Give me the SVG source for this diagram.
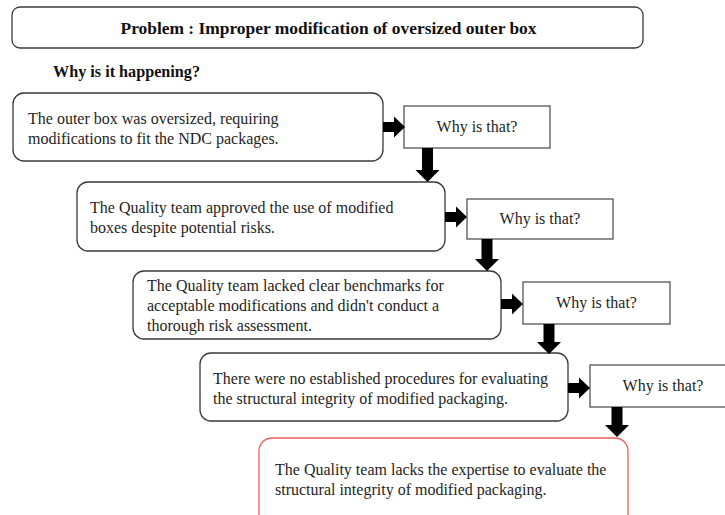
<svg xmlns="http://www.w3.org/2000/svg" width="725" height="515" viewBox="0 0 725 515">
  <style>
    .box { fill: #ffffff; stroke: #3a3a3a; stroke-width: 1.3; }
    .why { fill: #ffffff; stroke: #555555; stroke-width: 1.3; }
    .root { fill: #ffffff; stroke: #ef5f58; stroke-width: 1.3; }
    .t { font-family: "Liberation Serif", "Times New Roman", serif; font-size: 16px; fill: #1e1e1e; }
    .b { font-family: "Liberation Serif", "Times New Roman", serif; font-weight: bold; fill: #111111; }
    .c { text-anchor: middle; }
    .arr { fill: #000000; stroke: none; }
  </style>
  <defs>
    <path id="ra" d="M0,-5 H11 V-10.5 L22,0 L11,10.5 V5 H0 Z"/>
  </defs>
  <rect width="725" height="515" fill="#ffffff"/>

  <g id="title">
    <rect class="box" x="12" y="7" width="631" height="41" rx="8"/>
    <text class="b c" x="328.5" y="34" font-size="17.3" textLength="416" lengthAdjust="spacingAndGlyphs">Problem : Improper modification of oversized outer box</text>
  </g>
  <g id="subtitle">
    <text class="b" x="53" y="77" font-size="16" textLength="147" lengthAdjust="spacingAndGlyphs">Why is it happening?</text>
  </g>

  <g id="cause1">
    <rect class="box" x="13" y="93" width="370" height="68" rx="11"/>
    <text class="t" x="28" y="124">The outer box was oversized, requiring</text>
    <text class="t" x="28" y="144">modifications to fit the NDC packages.</text>
  </g>
  <g id="why1">
    <rect class="why" x="404" y="106" width="146" height="42"/>
    <text class="t c" x="477" y="132">Why is that?</text>
  </g>

  <g id="cause2">
    <rect class="box" x="77" y="182" width="368" height="69" rx="11"/>
    <text class="t" x="90" y="213">The Quality team approved the use of modified</text>
    <text class="t" x="90" y="233">boxes despite potential risks.</text>
  </g>
  <g id="why2">
    <rect class="why" x="467" y="199" width="146" height="40"/>
    <text class="t c" x="540" y="224">Why is that?</text>
  </g>

  <g id="cause3">
    <rect class="box" x="133" y="271" width="368" height="68" rx="11"/>
    <text class="t" x="147" y="291">The Quality team lacked clear benchmarks for</text>
    <text class="t" x="147" y="311">acceptable modifications and didn't conduct a</text>
    <text class="t" x="147" y="331">thorough risk assessment.</text>
  </g>
  <g id="why3">
    <rect class="why" x="523" y="282" width="147" height="42"/>
    <text class="t c" x="596.5" y="308">Why is that?</text>
  </g>

  <g id="cause4">
    <rect class="box" x="200" y="353" width="368" height="68" rx="11"/>
    <text class="t" x="213" y="384">There were no established procedures for evaluating</text>
    <text class="t" x="213" y="404">the structural integrity of modified packaging.</text>
  </g>
  <g id="why4">
    <rect class="why" x="590" y="365" width="146" height="42"/>
    <text class="t c" x="663" y="391">Why is that?</text>
  </g>

  <g id="rootcause">
    <rect class="root" x="259" y="438" width="369" height="100" rx="13"/>
    <text class="t" x="275" y="475">The Quality team lacks the expertise to evaluate the</text>
    <text class="t" x="275" y="495">structural integrity of modified packaging.</text>
  </g>

  <g id="connectors">
    <use class="arr" href="#ra" x="383" y="127"/>
    <use class="arr" href="#ra" x="445" y="217"/>
    <use class="arr" href="#ra" x="501" y="304"/>
    <use class="arr" href="#ra" x="568" y="388"/>
    <path class="arr" d="M422,148 H433 V170 H439.5 L427.5,182 L415.5,170 H422 Z"/>
    <path class="arr" d="M481.5,239 H492.5 V259 H499 L487,271 L475,259 H481.5 Z"/>
    <path class="arr" d="M543.5,324 H554.5 V342 H561 L549,354 L537,342 H543.5 Z"/>
    <path class="arr" d="M611.5,407 H622.5 V425 H629 L617,437 L605,425 H611.5 Z"/>
  </g>
</svg>
